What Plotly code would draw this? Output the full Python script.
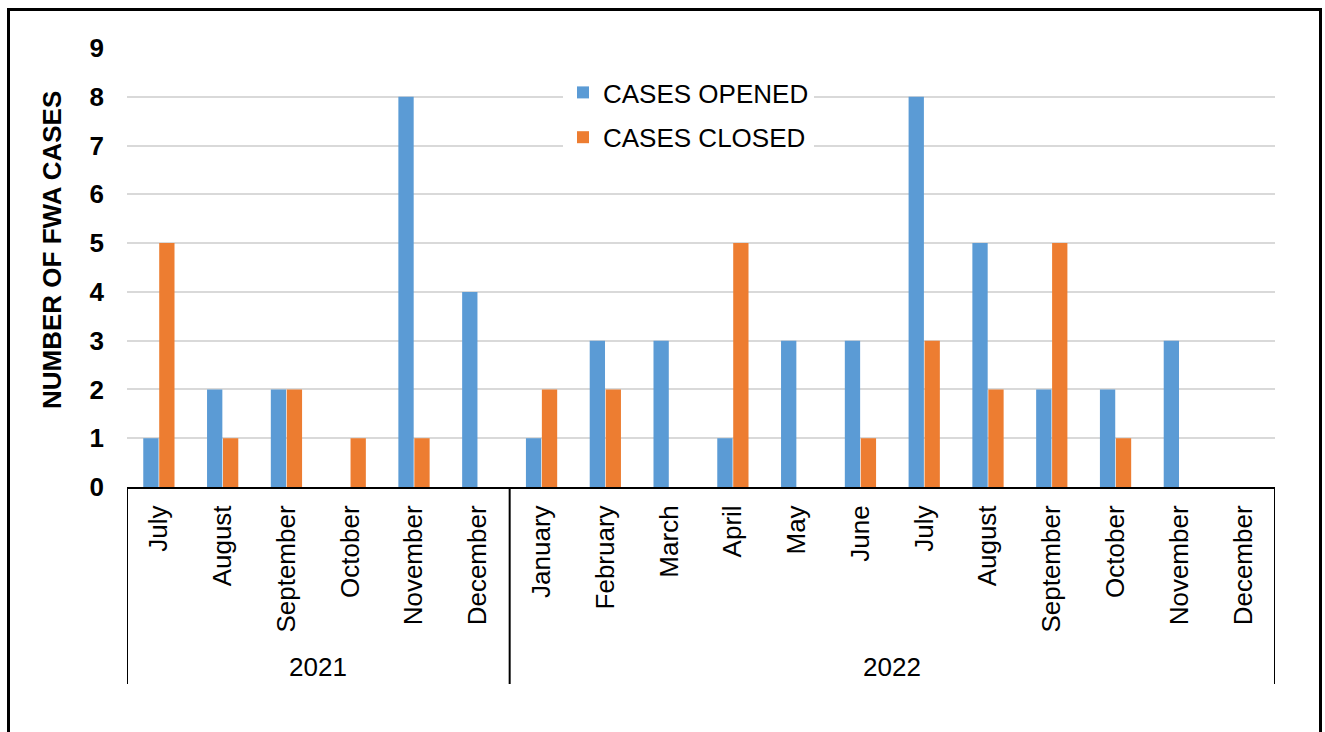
import plotly.graph_objects as go

# Monthly FWA case counts, July 2021 - December 2022
years = ["2021"] * 6 + ["2022"] * 12
months = ["July", "August", "September", "October", "November", "December",
          "January", "February", "March", "April", "May", "June",
          "July", "August", "September", "October", "November", "December"]
cases_opened = [1, 2, 2, 0, 8, 4, 1, 3, 3, 1, 3, 3, 8, 5, 2, 2, 3, 0]
cases_closed = [5, 1, 2, 1, 1, 0, 2, 2, 0, 5, 0, 1, 3, 2, 5, 1, 0, 0]
y_ticks = list(range(0, 10))

keys = [f"{y}-{m}" for y, m in zip(years, months)]

W, H = 1325, 732
FONT = "Arial, Liberation Sans, sans-serif"
FS = 26
BLUE = "#5B9BD5"
ORANGE = "#ED7D31"

fig = go.Figure()
fig.add_trace(go.Bar(x=keys, y=cases_opened, name="CASES OPENED",
                     marker=dict(color=BLUE, line=dict(width=0)), legendgroup="a"))
fig.add_trace(go.Bar(x=keys, y=cases_closed, name="CASES CLOSED",
                     marker=dict(color=ORANGE, line=dict(width=0)), legendgroup="b"))

# plot area in pixels
x_left, x_right = 127, 1275
y_top, y_bottom = 48, 487

def px_x(p):
    return p / W

def px_y(p):
    return (H - p) / H

shapes = []
# year group dividers below the axis
n = len(keys)
group_edges = [-0.5]
for i in range(1, n):
    if years[i] != years[i - 1]:
        group_edges.append(i - 0.5)
group_edges.append(n - 0.5)
for e in group_edges:
    shapes.append(dict(type="line", xref="x", yref="paper", x0=e, x1=e,
                       y0=px_y(684), y1=px_y(y_bottom),
                       line=dict(color="black", width=2)))
# outer frame
shapes.append(dict(type="rect", xref="paper", yref="paper",
                   x0=px_x(8.5), x1=px_x(1320.5), y0=-0.05, y1=px_y(9.5),
                   line=dict(color="black", width=3), fillcolor="rgba(0,0,0,0)"))

annotations = []
# year labels centred under each group
for a, b in zip(group_edges[:-1], group_edges[1:]):
    yr = years[int(a + 0.5)]
    annotations.append(dict(text=yr, xref="x", yref="paper", x=(a + b) / 2,
                            y=px_y(667), showarrow=False, xanchor="center", yanchor="middle",
                            font=dict(family=FONT, size=FS, color="black")))
annotations.append(dict(text="<b>NUMBER OF FWA CASES</b>", xref="paper", yref="paper",
                        x=px_x(52), y=px_y(250), textangle=-90, showarrow=False,
                        xanchor="center", yanchor="middle",
                        font=dict(family=FONT, size=FS, color="black")))

fig.update_layout(
    template="none",
    width=W, height=H, autosize=False,
    margin=dict(l=0, r=0, t=0, b=0, pad=0, autoexpand=False),
    paper_bgcolor="white", plot_bgcolor="white",
    barmode="group", bargap=0.5, bargroupgap=0.04,
    shapes=shapes, annotations=annotations,
    legend=dict(x=px_x(563), y=px_y(69), xanchor="left", yanchor="top",
                bgcolor="white", font=dict(family=FONT, size=FS, color="black"),
                traceorder="grouped", tracegroupgap=8, itemwidth=30,
                borderwidth=0),
    xaxis=dict(domain=[px_x(x_left), px_x(x_right)], type="category",
               tickmode="array", tickvals=keys, ticktext=months, tickangle=-90,
               tickfont=dict(family=FONT, size=FS, color="black"),
               showline=True, linecolor="black", linewidth=2, automargin=False,
               ticks="", showgrid=False, ticklabelstandoff=6, zeroline=False,
               range=[-0.5, n - 0.5]),
    yaxis=dict(domain=[px_y(y_bottom), px_y(y_top)], range=[0, 9],
               tickmode="array", tickvals=y_ticks, automargin=False,
               tickfont=dict(family=FONT, size=FS, color="black", weight="bold"),
               showgrid=True, gridcolor="#D9D9D9", gridwidth=2,
               zeroline=False, showline=False, ticks="", ticklabelstandoff=22),
)

fig.write_html("out.html")
